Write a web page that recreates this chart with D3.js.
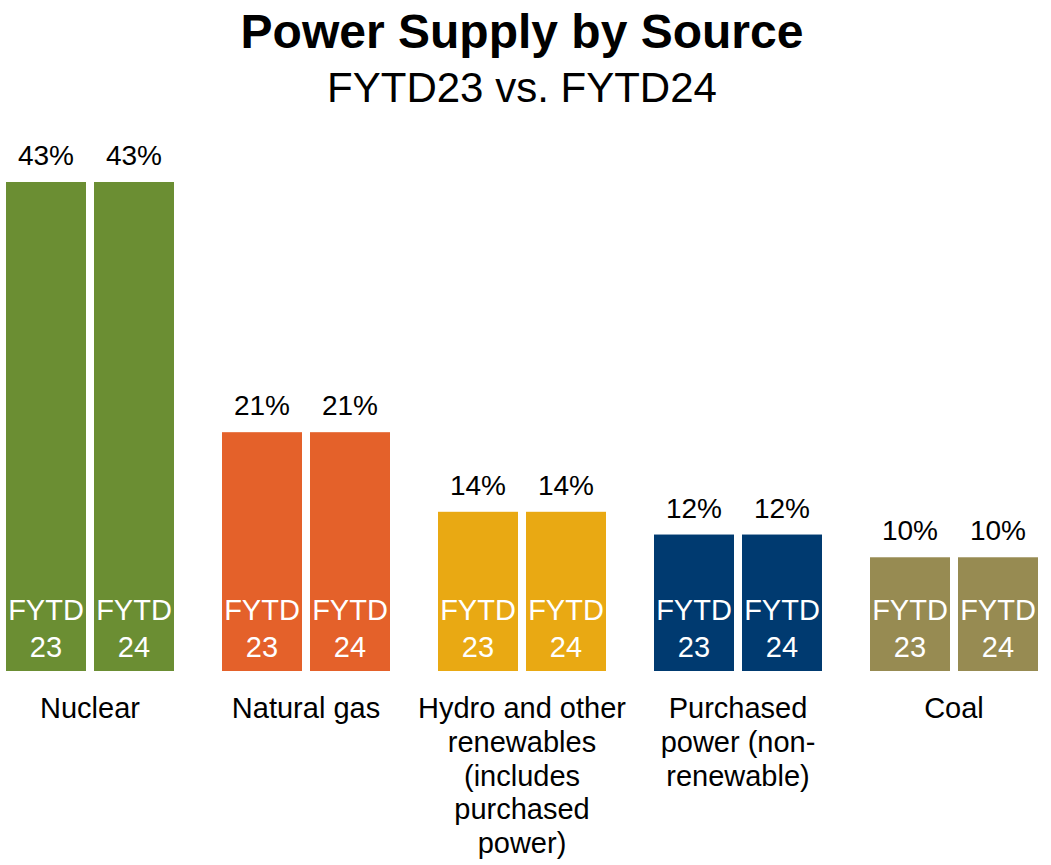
<!DOCTYPE html>
<html>
<head>
<meta charset="utf-8">
<script src="https://cdn.jsdelivr.net/npm/d3@7"></script>
<style>
  html, body { margin: 0; padding: 0; background: #fff; }
  svg { display: block; font-family: "Liberation Sans", Arial, sans-serif; }
</style>
</head>
<body>
<svg id="chart" width="1051" height="865"></svg>
<script>
// Power supply shares by source, two fiscal-year-to-date periods
const categories = ["Nuclear", "Natural gas", "Hydro and other renewables (includes purchased power)", "Purchased power (non-renewable)", "Coal"];
const categoryLines = [
  ["Nuclear"],
  ["Natural gas"],
  ["Hydro and other", "renewables", "(includes", "purchased", "power)"],
  ["Purchased", "power (non-", "renewable)"],
  ["Coal"]
];
const periods = ["FYTD23", "FYTD24"];
const periodLines = [["FYTD", "23"], ["FYTD", "24"]];
const fytd23 = [43, 21, 14, 12, 10];
const fytd24 = [43, 21, 14, 12, 10];
const colors = ["#6B8E33", "#E4612A", "#E9A913", "#003A70", "#978B52"];

const svg = d3.select("#chart");

const rows = categories.map((c, i) => ({
  category: c,
  lines: categoryLines[i],
  color: colors[i],
  values: [
    { period: periods[0], label: periodLines[0], value: fytd23[i] },
    { period: periods[1], label: periodLines[1], value: fytd24[i] }
  ]
}));

const x0 = d3.scaleBand()
  .domain(categories)
  .range([6, 1038])
  .paddingInner(48 / 216)
  .paddingOuter(0);

const x1 = d3.scaleBand()
  .domain(periods)
  .range([0, x0.bandwidth()])
  .paddingInner(8 / 88)
  .paddingOuter(0);

const y = d3.scaleLinear()
  .domain([0, d3.max([...fytd23, ...fytd24])])
  .range([671, 182]);

// Title
svg.append("text")
  .attr("x", 522).attr("y", 48)
  .attr("text-anchor", "middle")
  .attr("font-size", 48).attr("font-weight", "bold")
  .attr("fill", "#000")
  .text("Power Supply by Source");

svg.append("text")
  .attr("x", 522).attr("y", 102)
  .attr("text-anchor", "middle")
  .attr("font-size", 42)
  .attr("fill", "#000")
  .text("FYTD23 vs. FYTD24");

const groups = svg.selectAll("g.group")
  .data(rows)
  .join("g")
  .attr("class", "group")
  .attr("transform", d => `translate(${x0(d.category)},0)`);

const bars = groups.selectAll("g.bar")
  .data(d => d.values.map(v => ({ ...v, color: d.color })))
  .join("g")
  .attr("class", "bar");

bars.append("rect")
  .attr("x", d => x1(d.period))
  .attr("width", x1.bandwidth())
  .attr("y", d => y(d.value))
  .attr("height", d => y(0) - y(d.value))
  .attr("fill", d => d.color);

// Value labels above the bars
bars.append("text")
  .attr("x", d => x1(d.period) + x1.bandwidth() / 2)
  .attr("y", d => y(d.value) - 17)
  .attr("text-anchor", "middle")
  .attr("font-size", 28)
  .attr("fill", "#000")
  .text(d => d.value + "%");

// Period labels inside the bars
bars.append("text")
  .attr("x", d => x1(d.period) + x1.bandwidth() / 2)
  .attr("y", 620)
  .attr("text-anchor", "middle")
  .attr("font-size", 29)
  .attr("fill", "#fff")
  .selectAll("tspan")
  .data(d => d.label)
  .join("tspan")
  .attr("x", function () { return d3.select(this.parentNode).attr("x"); })
  .attr("dy", (d, i) => i === 0 ? 0 : 37)
  .text(d => d);

// Category labels below
groups.append("text")
  .attr("x", x0.bandwidth() / 2)
  .attr("y", 718)
  .attr("text-anchor", "middle")
  .attr("font-size", 29)
  .attr("fill", "#000")
  .selectAll("tspan")
  .data(d => d.lines)
  .join("tspan")
  .attr("x", x0.bandwidth() / 2)
  .attr("dy", (d, i) => i === 0 ? 0 : 33.8)
  .text(d => d);
</script>
</body>
</html>
